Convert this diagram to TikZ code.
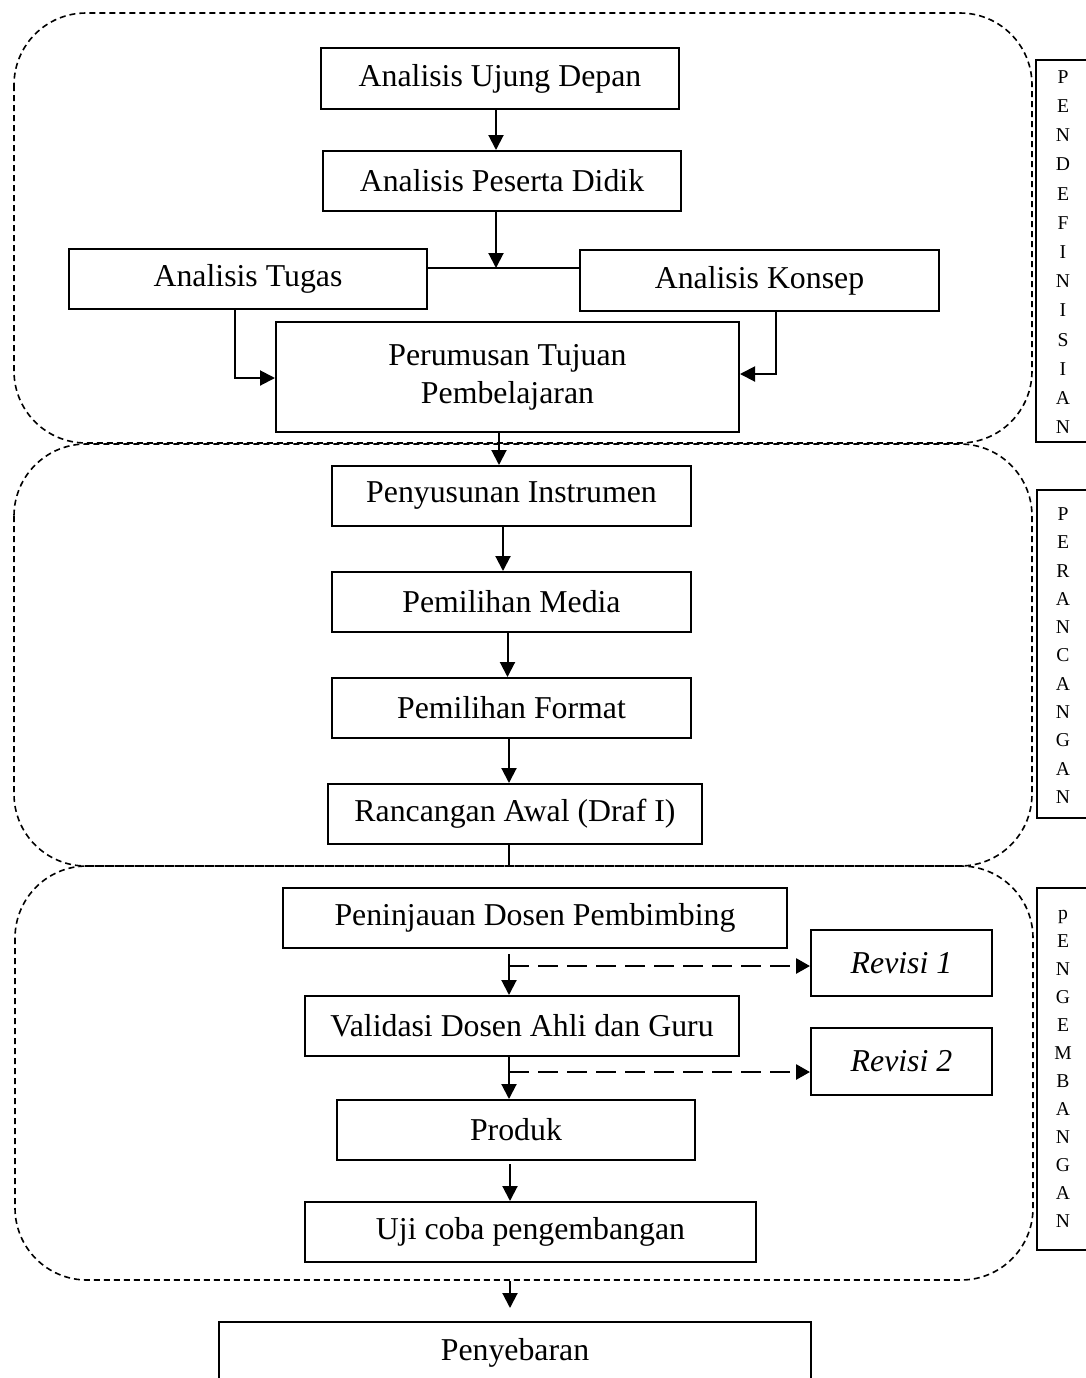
\documentclass[tikz,border=0pt]{standalone}
\usepackage{fontspec}
\setmainfont{Liberation Serif}
\usetikzlibrary{arrows.meta,calc}
\begin{document}
\begin{tikzpicture}[x=0.5pt,y=-0.5pt,
  box/.style={draw, line width=1pt, inner sep=0pt, align=center, font=\fontsize{15.9}{19}\selectfont},
  arr/.style={line width=1pt, -{Triangle[length=7.5pt,width=7.5pt]}},
  darr/.style={line width=1.4pt, dash pattern=on 10pt off 4.5pt, -{Triangle[length=7pt,width=7.5pt]}},
  plain/.style={line width=1pt},
  region/.style={line width=0.8pt, dash pattern=on 3pt off 2pt, rounded corners=36pt},
  side/.style={draw, line width=1pt},
  sidetext/.style={align=center, inner sep=0pt, font=\fontsize{9.8}{#1}\selectfont}
]
\useasboundingbox (0,0) rectangle (1086,1378);
\clip (0,0) rectangle (1086,1378);

% dashed regions
\draw[region] (14,13) rectangle (1032,443);
\draw[region] (14,444) rectangle (1032,866);
\draw[region] (15,866) rectangle (1033,1280);

% side labels
\draw[side] (1036,60) rectangle (1100,442);
\node[sidetext=14.6pt] (lab1) at (1063,252) {P\\E\\N\\D\\E\\F\\I\\N\\I\\S\\I\\A\\N};
\draw[side] (1037,490) rectangle (1100,818);
\node[sidetext=14.15pt] (lab2) at (1063,655.5) {P\\E\\R\\A\\N\\C\\A\\N\\G\\A\\N};
\draw[side] (1037,888) rectangle (1100,1250);
\node[sidetext=14pt] (lab3) at (1063,1069) {p\\E\\N\\G\\E\\M\\B\\A\\N\\G\\A\\N};

% nodes
\node[box, minimum width=179pt, minimum height=30.5pt] (ujung) at (500,78.5) {Analisis Ujung Depan};
\node[box, minimum width=179pt, minimum height=30pt] (peserta) at (502,181) {Analisis Peserta Didik};
\node[box, minimum width=179pt, minimum height=30pt] (tugas) at (248,279) {Analisis Tugas};
\node[box, minimum width=179.5pt, minimum height=30.5pt] (konsep) at (759.5,280.5) {Analisis Konsep};
\node[box, minimum width=231.5pt, minimum height=55pt] (perum) at (507.5,377) {Perumusan Tujuan\\Pembelajaran};
\node[box, minimum width=179.5pt, minimum height=30pt] (penyus) at (511.5,496) {Penyusunan Instrumen};
\node[box, minimum width=179.5pt, minimum height=30pt] (media) at (511.5,602) {Pemilihan Media};
\node[box, minimum width=179.5pt, minimum height=30pt] (format) at (511.5,708) {Pemilihan Format};
\node[box, minimum width=187pt, minimum height=30pt] (rancang) at (515,814) {Rancangan Awal (Draf I)};
\node[box, minimum width=252pt, minimum height=30pt] (peninj) at (535,918) {Peninjauan Dosen Pembimbing};
\node[box, minimum width=90.5pt, minimum height=33pt] (rev1) at (901.5,963) {\itshape Revisi 1};
\node[box, minimum width=217pt, minimum height=30pt] (valid) at (522,1026) {Validasi Dosen Ahli dan Guru};
\node[box, minimum width=90.5pt, minimum height=33.5pt] (rev2) at (901.5,1061.5) {\itshape Revisi 2};
\node[box, minimum width=179pt, minimum height=30pt] (produk) at (516,1130) {Produk};
\node[box, minimum width=225.5pt, minimum height=30pt] (uji) at (530.5,1232) {Uji coba pengembangan};
\node[box, minimum width=296pt, minimum height=31pt] (peny) at (515,1353) {Penyebaran};

% helper coordinates
\coordinate (c1) at (496,0);
\coordinate (j) at (496,268);
\coordinate (tA) at (235,378);
\coordinate (kB) at (776,374);
\coordinate (c2) at (499,0);
\coordinate (c3) at (503,0);
\coordinate (c4) at (507.5,0);
\coordinate (c5) at (509,0);
\coordinate (c6) at (510,0);
\coordinate (r2bot) at (509,866);
\coordinate (d1) at (509,966);
\coordinate (d2) at (509,1072);
\coordinate (r3bot) at (510,1281);

% connectors
\draw[arr] (ujung.south -| c1) -- (peserta.north -| c1);
\draw[plain] (tugas.east |- j) -- (konsep.west |- j);
\draw[arr] (peserta.south -| c1) -- (j);
\draw[arr] (tugas.south -| tA) |- (perum.west |- tA);
\draw[arr] (konsep.south -| kB) |- (perum.east |- kB);
\draw[arr] (perum.south -| c2) -- (penyus.north -| c2);
\draw[arr] (penyus.south -| c3) -- (media.north -| c3);
\draw[arr] (media.south -| c4) -- (format.north -| c4);
\draw[arr] (format.south -| c5) -- (rancang.north -| c5);
\draw[plain] (rancang.south -| c5) -- (r2bot);
\draw[arr, shorten <=2.5pt] (peninj.south -| c5) -- (valid.north -| c5);
\draw[darr] (d1) -- (d1 -| rev1.west);
\draw[arr] (valid.south -| c5) -- (produk.north -| c5);
\draw[darr] (d2) -- (d2 -| rev2.west);
\draw[arr, shorten <=1.5pt] (produk.south -| c6) -- (uji.north -| c6);
\draw[arr, shorten >=6.5pt] (r3bot) -- (peny.north -| c6);
\end{tikzpicture}
\end{document}
